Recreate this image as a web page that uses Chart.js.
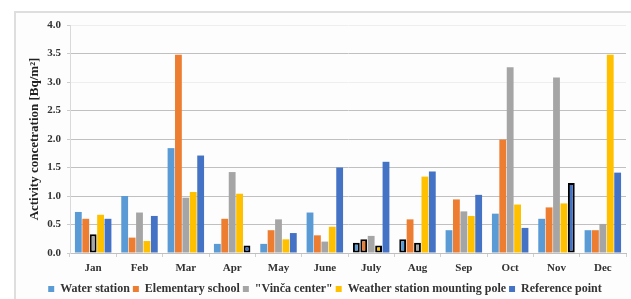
<!DOCTYPE html>
<html>
<head>
<meta charset="utf-8">
<script src="https://cdn.jsdelivr.net/npm/chart.js@4/dist/chart.umd.min.js"></script>
<style>
  html, body { margin: 0; padding: 0; background: #fff; }
  #wrap { position: relative; width: 631px; height: 299px; overflow: hidden; }
  #frame { position: absolute; left: 14px; top: 11px; width: 640px; height: 320px;
           border: 2px solid #dedede; background: #fdfdfd; box-sizing: border-box; }
  #chart { position: absolute; left: 0; top: 0; }
</style>
</head>
<body>
<div id="wrap">
  <div id="frame"></div>
  <canvas id="chart" width="631" height="299"></canvas>
</div>
<script>
const months = ['Jan', 'Feb', 'Mar', 'Apr', 'May', 'June', 'July', 'Aug', 'Sep', 'Oct', 'Nov', 'Dec'];

const waterStation   = [0.72, 1.00, 1.84, 0.16, 0.16, 0.71, 0.18, 0.24, 0.40, 0.69, 0.60, 0.40];
const elementary     = [0.60, 0.27, 3.48, 0.60, 0.40, 0.31, 0.24, 0.59, 0.94, 1.99, 0.80, 0.40];
const vincaCenter    = [0.33, 0.71, 0.97, 1.42, 0.59, 0.20, 0.30, 0.18, 0.73, 3.26, 3.08, 0.51];
const weatherPole    = [0.67, 0.21, 1.07, 1.04, 0.24, 0.46, 0.13, 1.34, 0.65, 0.85, 0.87, 3.48];
const referencePoint = [0.60, 0.65, 1.71, 0.13, 0.35, 1.50, 1.60, 1.43, 1.02, 0.44, 1.23, 1.41];

const yTicks = [0, 0.5, 1, 1.5, 2, 2.5, 3, 3.5, 4];

// bars drawn with a black outline in the original: [series, month]
const outlined = [[0, 6], [0, 7], [1, 6], [2, 0], [2, 7], [3, 6], [4, 3], [4, 10]];

const font = 'Liberation Serif';

function isOutlined(ctx) {
  return ctx.type === 'data' &&
    outlined.some(o => o[0] === ctx.datasetIndex && o[1] === ctx.dataIndex);
}

function series(label, data, color) {
  return {
    label: label,
    data: data,
    backgroundColor: color,
    borderColor: '#000',
    borderWidth: ctx => isOutlined(ctx) ? 2 : 0,
    borderSkipped: false,
    categoryPercentage: 0.8,
    barPercentage: 0.92
  };
}

// nudge the legend lower and a bit to the right, like the original
const moveLegend = {
  id: 'moveLegend',
  afterLayout(chart) {
    const l = chart.legend;
    l.top += 6; l.bottom += 6;
    l.left += 12; l.right += 12;
  }
};

new Chart(document.getElementById('chart'), {
  type: 'bar',
  data: {
    labels: months,
    datasets: [
      series('Water station', waterStation, '#5b9bd5'),
      series('Elementary school', elementary, '#ed7d31'),
      series('"Vinča center"', vincaCenter, '#a5a5a5'),
      series('Weather station mounting pole', weatherPole, '#ffc000'),
      series('Reference point', referencePoint, '#4472c4')
    ]
  },
  options: {
    responsive: false,
    animation: false,
    layout: { padding: { left: 0, right: 5, top: 25, bottom: 0 } },
    scales: {
      x: {
        grid: { drawOnChartArea: false, color: '#d0d0d0', tickLength: 4 },
        border: { color: '#bfbfbf' },
        ticks: { color: '#333', padding: 5, font: { family: font, size: 11, weight: 'bold' } },
        afterFit: s => { s.height = 21; }
      },
      y: {
        min: 0,
        max: 4,
        afterBuildTicks: s => { s.ticks = yTicks.map(v => ({ value: v })); },
        ticks: {
          color: '#333',
          padding: 6,
          font: { family: font, size: 11, weight: 'bold' },
          callback: v => v.toFixed(1)
        },
        grid: {
          color: ctx => (ctx.tick && (ctx.tick.value === 3 || ctx.tick.value === 4)) ? '#eeeeee' : '#c0c0c0',
          tickColor: '#cccccc',
          tickLength: 3
        },
        border: { color: '#d9d9d9' },
        title: {
          display: true,
          text: 'Activity concetration [Bq/m²]',
          color: '#222',
          padding: { top: 27, bottom: 0 },
          font: { family: font, size: 13, weight: 'bold' }
        },
        afterFit: s => { s.width = 70; }
      }
    },
    plugins: {
      legend: {
        position: 'bottom',
        labels: {
          boxWidth: 6,
          boxHeight: 6,
          padding: 3,
          color: '#333',
          font: { family: font, size: 12, weight: 'bold' },
          generateLabels: chart => Chart.defaults.plugins.legend.labels.generateLabels(chart)
            .map(l => Object.assign(l, { lineWidth: 0 }))
        }
      },
      tooltip: { enabled: false }
    }
  },
  plugins: [moveLegend]
});
</script>
</body>
</html>
